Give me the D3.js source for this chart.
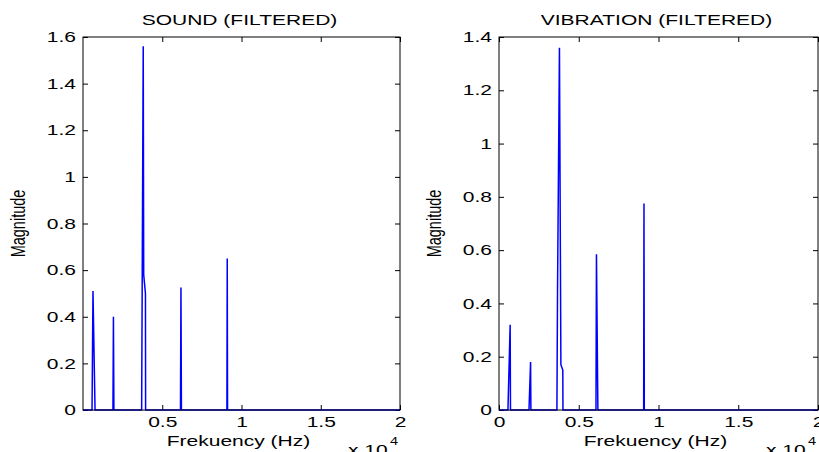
<!DOCTYPE html>
<html>
<head>
<meta charset="utf-8">
<script src="https://cdn.jsdelivr.net/npm/d3@7/dist/d3.min.js"></script>
<style>
  body { margin: 0; background: #fff; }
  svg { display: block; font-family: Arial, "Liberation Sans", sans-serif; }
  .axis path { display: none; }
  .axis line { stroke: #000; }
</style>
</head>
<body>
<svg width="819" height="452"></svg>
<script>
// spectrum samples (Hz, magnitude)
var soundFreq = [0, 570, 630, 760, 1890, 1920, 1950, 3700, 3800, 3830, 3940, 3950, 6150, 6180, 6210, 9080, 9100, 9120, 20000];
var soundMag  = [0, 0, 0.51, 0, 0, 0.40, 0, 0, 1.56, 0.58, 0.50, 0, 0, 0.525, 0, 0, 0.65, 0, 0];
var vibFreq = [0, 560, 700, 720, 1880, 1980, 2000, 3630, 3670, 3790, 3880, 4000, 4010, 6080, 6110, 6200, 9070, 9090, 9110, 20000];
var vibMag  = [0, 0, 0.32, 0, 0, 0.18, 0, 0, 0.45, 1.36, 0.17, 0.15, 0, 0, 0.585, 0, 0, 0.775, 0, 0];

var soundXTicks = [5000, 10000, 15000, 20000];
var vibXTicks = [0, 5000, 10000, 15000, 20000];
var soundYTicks = [0, 0.2, 0.4, 0.6, 0.8, 1, 1.2, 1.4, 1.6];
var vibYTicks = [0, 0.2, 0.4, 0.6, 0.8, 1, 1.2, 1.4];

var svg = d3.select("svg");
var SX = 1.45; // the picture is stretched sideways, text too
var FS = 14.5;

function fmtX(d) { return d === 0 ? "0" : d3.format("~g")(d / 10000); }

function panel(p) {
    var x = d3.scaleLinear().domain([0, 20000]).range([p.left, p.right]);
    var y = d3.scaleLinear().domain([0, p.ymax]).range([p.bottom, p.top]);
    var g = svg.append("g");

    g.append("g").attr("class", "axis")
        .attr("transform", "translate(0," + p.bottom + ")")
        .call(d3.axisBottom(x).tickValues(p.xticks).tickSize(-5).tickSizeOuter(0).tickPadding(7).tickFormat(fmtX));
    g.append("g").attr("class", "axis")
        .attr("transform", "translate(0," + p.top + ")")
        .call(d3.axisTop(x).tickValues(p.xticks).tickSize(-5).tickSizeOuter(0).tickFormat(""));
    g.append("g").attr("class", "axis")
        .attr("transform", "translate(" + p.left + ",0)")
        .call(d3.axisLeft(y).tickValues(p.yticks).tickSize(-5).tickSizeOuter(0).tickPadding(7).tickFormat(d3.format("~g")));
    g.append("g").attr("class", "axis")
        .attr("transform", "translate(" + p.right + ",0)")
        .call(d3.axisRight(y).tickValues(p.yticks).tickSize(-5).tickSizeOuter(0).tickFormat(""));

    // stretch tick labels like the source image
    g.selectAll(".axis text")
        .attr("font-size", FS)
        .attr("font-family", "Arial, 'Liberation Sans', sans-serif")
        .attr("fill", "#000")
        .each(function () {
            var t = d3.select(this);
            var tx = +t.attr("x") || 0, ty = +t.attr("y") || 0;
            t.attr("x", 0).attr("y", 0)
             .attr("transform", "translate(" + tx + "," + ty + ") scale(" + SX + ",1)");
        });

    var pts = p.freq.map(function (f, i) { return [f, p.mag[i]]; });
    var line = d3.line().x(function (d) { return x(d[0]); }).y(function (d) { return y(d[1]); });
    g.append("path")
        .datum(pts)
        .attr("d", line)
        .attr("fill", "none")
        .attr("stroke", "#0000ff")
        .attr("stroke-width", 1.5);

    g.append("rect")
        .attr("x", p.left).attr("y", p.top)
        .attr("width", p.right - p.left).attr("height", p.bottom - p.top)
        .attr("fill", "none").attr("stroke", "#000").attr("stroke-width", 1);

    g.append("text")
        .attr("transform", "translate(" + ((p.left + p.right) / 2 - 2) + ",25) scale(" + SX + ",1)")
        .attr("text-anchor", "middle")
        .attr("font-size", FS)
        .text(p.title);

    g.append("text")
        .attr("transform", "translate(" + ((p.left + p.right) / 2 - 3) + ",446) scale(" + SX + ",1)")
        .attr("text-anchor", "middle")
        .attr("font-size", FS)
        .text("Frekuency (Hz)");

    g.append("text")
        .attr("transform", "translate(" + (p.left - 58) + "," + ((p.top + p.bottom) / 2) + ") rotate(-90) scale(1," + SX + ")")
        .attr("text-anchor", "middle")
        .attr("font-size", FS)
        .text("Magnitude");

    var ex = g.append("text")
        .attr("transform", "translate(" + (p.right - 52) + ",455) scale(" + SX + ",1)")
        .attr("font-size", FS);
    ex.append("tspan").text("x 10");
    ex.append("tspan").attr("font-size", 10).attr("dx", 1.5).attr("dy", -10).text("4");
}

panel({ left: 83, right: 400, top: 37, bottom: 410, ymax: 1.6, title: "SOUND (FILTERED)",
        freq: soundFreq, mag: soundMag, xticks: soundXTicks, yticks: soundYTicks });
panel({ left: 499, right: 818, top: 37, bottom: 410, ymax: 1.4, title: "VIBRATION (FILTERED)",
        freq: vibFreq, mag: vibMag, xticks: vibXTicks, yticks: vibYTicks });
</script>
</body>
</html>
